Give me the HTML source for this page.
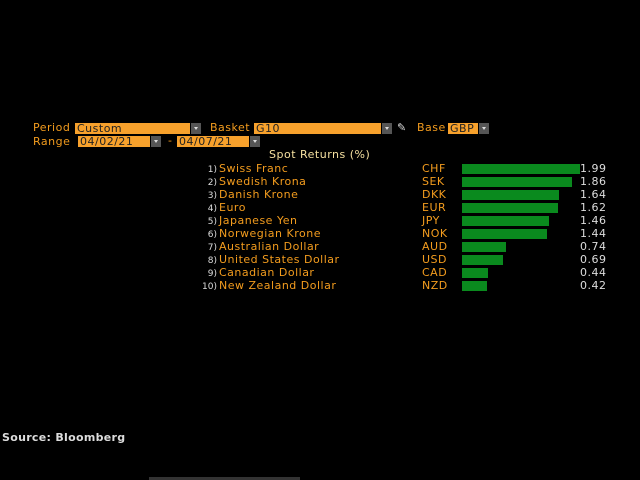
<!DOCTYPE html>
<html><head><style>
body{margin:0;width:640px;height:480px;background:#000;position:relative;overflow:hidden;font-family:"DejaVu Sans","Liberation Sans",sans-serif;font-size:11px;letter-spacing:0.5px;}
.a{position:absolute;white-space:nowrap;line-height:12px;}
.o{color:#f39c1e;}
.box{position:absolute;background:#f7a12c;color:#222;height:11px;line-height:11px;font-size:11px;padding-left:2px;box-sizing:border-box;}
.dd{position:absolute;background:#555;height:11px;width:10px;}
.dd:after{content:"";position:absolute;left:3px;top:4px;border:2px solid transparent;border-top:3px solid #ddd;}
.n{color:#ddd;font-size:9px;text-align:right;width:16px;letter-spacing:0;}
.w{color:#ddd;}
.bar{position:absolute;background:#0a8a1e;height:10px;left:462px;}
</style></head><body>
<div class="a o" style="left:33px;top:122px">Period</div>
<div class="box" style="left:75px;top:123px;width:115px">Custom</div><div class="dd" style="left:191px;top:123px"></div>
<div class="a o" style="left:210px;top:122px">Basket</div>
<div class="box" style="left:254px;top:123px;width:127px">G10</div><div class="dd" style="left:382px;top:123px"></div>
<div class="a" style="left:397px;top:122px;color:#ddd">✎</div>
<div class="a o" style="left:417px;top:122px">Base</div>
<div class="box" style="left:448px;top:123px;width:30px">GBP</div><div class="dd" style="left:479px;top:123px"></div>
<div class="a o" style="left:33px;top:136px">Range</div>
<div class="box" style="left:78px;top:136px;width:72px">04/02/21</div><div class="dd" style="left:151px;top:136px"></div>
<div class="a o" style="left:168px;top:135px">-</div>
<div class="box" style="left:177px;top:136px;width:72px">04/07/21</div><div class="dd" style="left:250px;top:136px"></div>
<div class="a" style="left:269px;top:149px;color:#f5e0a0">Spot Returns (%)</div>
<div id="rows"></div>
<div class="a" style="left:2px;top:432px;color:#ddd;font-weight:bold;font-size:11px;letter-spacing:0.3px">Source: Bloomberg</div>
<div style="position:absolute;left:149px;top:477px;width:151px;height:3px;background:#333"></div>
<script>
var d=[["Swiss Franc","CHF",1.99],["Swedish Krona","SEK",1.86],["Danish Krone","DKK",1.64],["Euro","EUR",1.62],["Japanese Yen","JPY",1.46],["Norwegian Krone","NOK",1.44],["Australian Dollar","AUD",0.74],["United States Dollar","USD",0.69],["Canadian Dollar","CAD",0.44],["New Zealand Dollar","NZD",0.42]];
var h="";d.forEach(function(r,i){var y=162.5+i*13.1;
h+='<div class="a n" style="left:201px;top:'+(y+1)+'px">'+(i+1)+')</div>';
h+='<div class="a o" style="left:219px;top:'+y+'px">'+r[0]+'</div>';
h+='<div class="a o" style="left:422px;top:'+y+'px">'+r[1]+'</div>';
h+='<div class="bar" style="top:'+(y+1)+'px;width:'+Math.round(r[2]*59.3)+'px"></div>';
h+='<div class="a w" style="left:580px;top:'+y+'px">'+r[2].toFixed(2)+'</div>';});
document.getElementById("rows").innerHTML=h;
</script>
</body></html>
